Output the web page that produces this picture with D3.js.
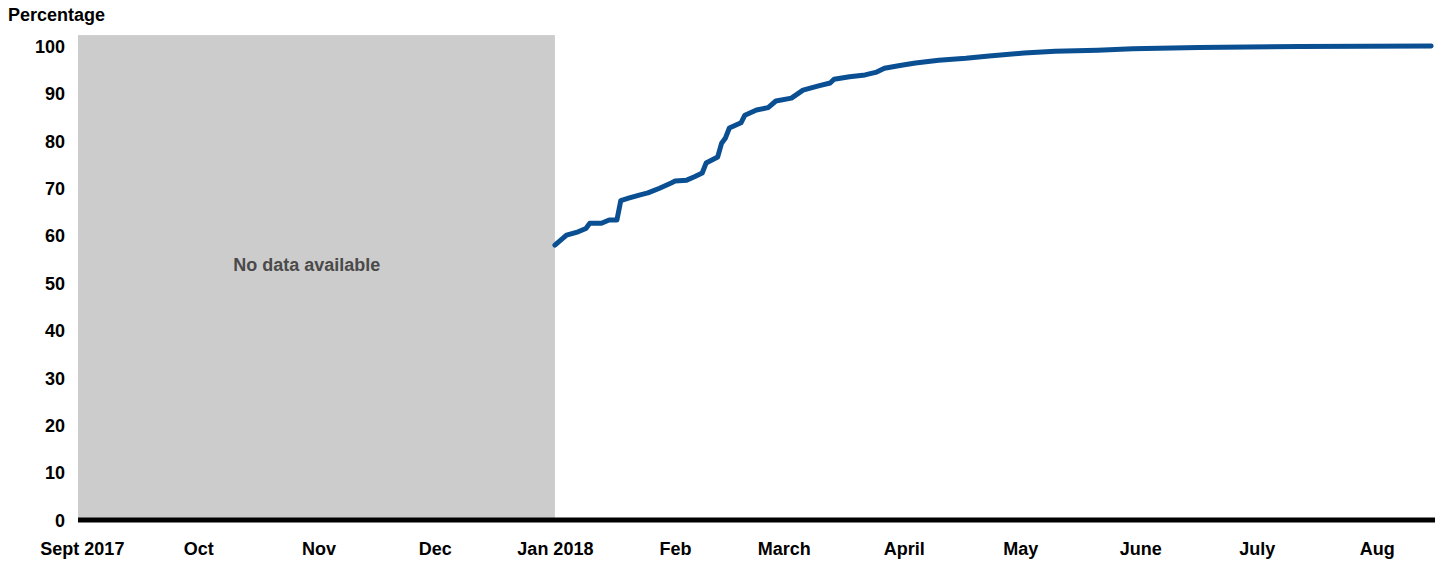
<!DOCTYPE html>
<html>
<head>
<meta charset="utf-8">
<script src="https://cdn.jsdelivr.net/npm/d3@7"></script>
<style>
  body { margin: 0; background: #fff; }
  svg text { font-family: "Liberation Sans", Arial, sans-serif; font-weight: bold; }
</style>
</head>
<body>
<div id="chart"></div>
<script>
// share reporting, daily series from Jan 2018 (no data before)
const dates = [
  '2018-01-01','2018-01-04','2018-01-07','2018-01-09','2018-01-10','2018-01-13','2018-01-15','2018-01-17',
  '2018-01-18','2018-01-20','2018-01-23','2018-01-25','2018-01-28','2018-01-31','2018-02-01','2018-02-04',
  '2018-02-06','2018-02-08','2018-02-09','2018-02-12','2018-02-13','2018-02-14','2018-02-15','2018-02-18',
  '2018-02-19','2018-02-22','2018-02-25','2018-02-27','2018-03-03','2018-03-06','2018-03-10','2018-03-13',
  '2018-03-14','2018-03-18','2018-03-22','2018-03-25','2018-03-27','2018-03-31','2018-04-04','2018-04-10',
  '2018-04-17','2018-04-23','2018-05-02','2018-05-10','2018-05-21','2018-05-30','2018-06-16','2018-07-12',
  '2018-08-15'
];
const values = [
  58.0, 60.1, 60.8, 61.5, 62.6, 62.6, 63.3, 63.3,
  67.4, 67.9, 68.6, 69.0, 70.0, 71.1, 71.5, 71.7,
  72.4, 73.2, 75.3, 76.6, 79.5, 80.6, 82.7, 83.8,
  85.4, 86.5, 87.0, 88.4, 89.0, 90.7, 91.6, 92.2,
  93.0, 93.5, 93.9, 94.5, 95.3, 95.9, 96.4, 97.0,
  97.4, 97.9, 98.5, 98.9, 99.1, 99.4, 99.7, 99.9,
  100.0
];
const monthTicks = ['2017-09-01','2017-10-01','2017-11-01','2017-12-01','2018-01-01','2018-02-01',
  '2018-03-01','2018-04-01','2018-05-01','2018-06-01','2018-07-01','2018-08-01'];
const monthLabels = ['Sept 2017','Oct','Nov','Dec','Jan 2018','Feb','March','April','May','June','July','Aug'];
const yTicks = [0, 10, 20, 30, 40, 50, 60, 70, 80, 90, 100];
const xStart = '2017-08-31', xEnd = '2018-08-16';
const noDataEnd = '2018-01-01';
const noDataLabelAt = '2017-10-29';
const shadeTop = 102.3;

const width = 1442, height = 561;
const parse = d3.timeParse('%Y-%m-%d');

const svg = d3.select('#chart').append('svg')
  .attr('width', width).attr('height', height);

const x = d3.scaleTime()
  .domain([parse(xStart), parse(xEnd)])
  .range([78, 1435]);
const y = d3.scaleLinear()
  .domain([0, 100])
  .range([520, 46]);

// no-data shading
svg.append('rect')
  .attr('x', x(parse(xStart)))
  .attr('y', y(shadeTop))
  .attr('width', x(parse(noDataEnd)) - x(parse(xStart)))
  .attr('height', y(0) - y(shadeTop))
  .attr('fill', '#cccccc');

svg.append('text')
  .attr('x', x(parse(noDataLabelAt)))
  .attr('y', 271)
  .attr('text-anchor', 'middle')
  .attr('font-size', 18)
  .attr('fill', '#4a4a4a')
  .text('No data available');

// y axis labels
const yAxis = svg.append('g')
  .attr('transform', 'translate(65,0)')
  .call(d3.axisLeft(y).tickValues(yTicks).tickSize(0).tickPadding(0));
yAxis.select('.domain').remove();
yAxis.selectAll('text').attr('font-size', 18).attr('fill', '#000').attr('dy', '0.35em');

// x axis labels
const xAxis = svg.append('g')
  .attr('transform', 'translate(0,' + y(0) + ')')
  .call(d3.axisBottom(x)
    .tickValues(monthTicks.map(parse))
    .tickFormat((d, i) => monthLabels[i])
    .tickSize(0).tickPadding(22));
xAxis.select('.domain').remove();
xAxis.selectAll('text').attr('font-size', 18).attr('fill', '#000');

// thick baseline
svg.append('line')
  .attr('x1', x.range()[0]).attr('x2', x.range()[1])
  .attr('y1', y(0)).attr('y2', y(0))
  .attr('stroke', '#000').attr('stroke-width', 5);

// series
const line = d3.line()
  .x((d, i) => x(parse(dates[i])))
  .y(d => y(d));
svg.append('path')
  .datum(values)
  .attr('d', line)
  .attr('fill', 'none')
  .attr('stroke', '#0b4f93')
  .attr('stroke-width', 5)
  .attr('stroke-linejoin', 'round')
  .attr('stroke-linecap', 'round');

svg.append('text')
  .attr('x', 8).attr('y', 21)
  .attr('font-size', 18)
  .attr('fill', '#000')
  .text('Percentage');
</script>
</body>
</html>
